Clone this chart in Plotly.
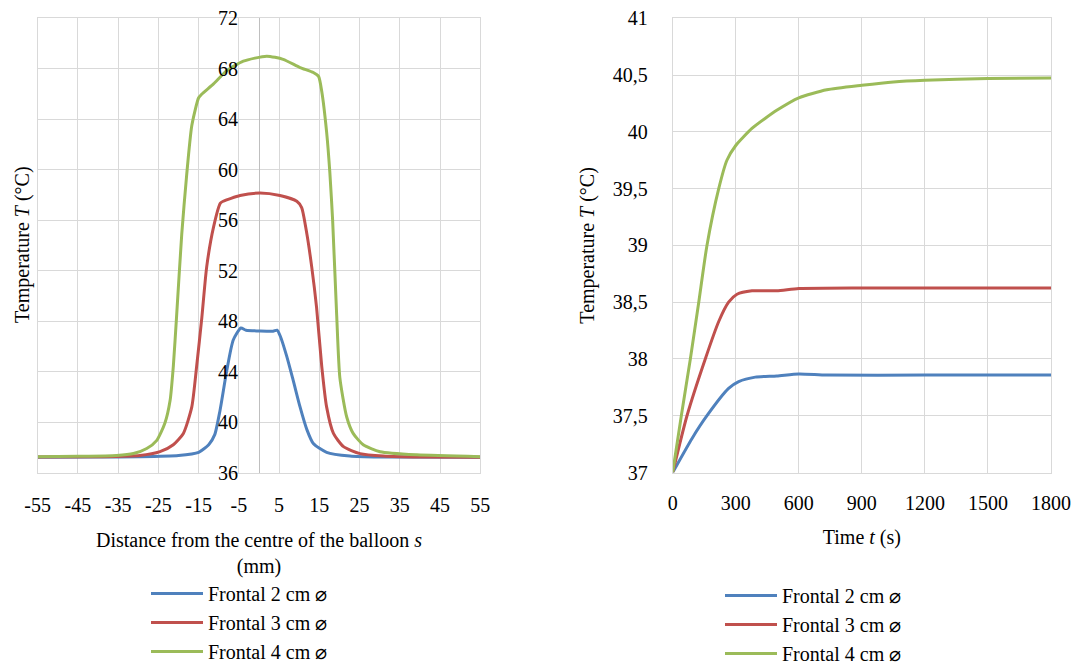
import plotly.graph_objects as go

# ---------------- data ----------------
series_names = ["Frontal 2 cm ⌀", "Frontal 3 cm ⌀", "Frontal 4 cm ⌀"]
colors = ["#4F81BD", "#C0504D", "#9BBB59"]

# Left chart: temperature vs distance from balloon centre (mm)
s_2cm = [-55, -40, -30, -20, -15, -12.5, -11, -9.7, -8, -6.4, -4.5, -3.2, 0, 3.5, 4.5,
         5.3, 6.9, 8.5, 10.2, 11.9, 13.5, 16.8, 22.6, 30, 55]
T_2cm = [37.2, 37.22, 37.25, 37.35, 37.6, 38.2, 39.0, 40.9, 44.1, 46.5, 47.45, 47.27, 47.22,
         47.2, 47.28, 46.8, 45.2, 43.3, 41.2, 39.4, 38.3, 37.6, 37.3, 37.22, 37.2]

s_3cm = [-55, -40, -29.6, -24.6, -21.3, -18.8, -16.7, -15.5, -14.2, -13, -11.3, -9.6, -8.9,
         -4.7, 0.25, 5.2, 9.4, 10.6, 11.9, 13.1, 14.3, 15.6, 16.8, 18.5, 21, 25.1, 30.9, 40, 55]
T_3cm = [37.22, 37.25, 37.35, 37.65, 38.2, 39.1, 41.2, 44.4, 48.3, 52.3, 55.45, 57.35, 57.5,
         57.95, 58.15, 57.95, 57.5, 57.0, 54.9, 52.3, 49.1, 44.4, 41.2, 39.1, 38.05, 37.5,
         37.3, 37.22, 37.2]

s_4cm = [-55, -45, -35.4, -31.2, -27.9, -25.4, -23.4, -22.1, -21.3, -20.5, -19.2, -18, -16.7,
         -15.0, -14.2, -11.3, -8, -3.9, 1.9, 6, 10.2, 13.5, 14.8, 15.6, 16.8, 17.6, 18.3, 19.3,
         20.1, 21.8, 23.4, 25.9, 30.1, 39.2, 55]
T_4cm = [37.25, 37.28, 37.35, 37.5, 37.9, 38.55, 39.9, 41.7, 44.4, 48.3, 54.9, 59.5, 63.5,
         65.7, 66.0, 66.8, 67.85, 68.6, 69.0, 68.75, 68.1, 67.7, 67.4, 66.2, 63.0, 59.8, 56.0,
         48.5, 43.5, 40.4, 39.1, 38.2, 37.65, 37.4, 37.25]

# Right chart: temperature vs time (s)
t_4cm = [0, 41, 84, 124, 163, 219, 258, 300, 377, 441, 495, 600, 733, 900, 1050, 1200, 1500, 1800]
Tt_4cm = [37.0, 37.5, 38.0, 38.5, 39.0, 39.5, 39.75, 39.88, 40.03, 40.12, 40.19, 40.3, 40.37,
          40.41, 40.44, 40.455, 40.47, 40.475]
t_3cm = [0, 68, 155, 219, 266, 306, 377, 495, 600, 900, 1200, 1800]
Tt_3cm = [37.0, 37.5, 38.0, 38.33, 38.5, 38.57, 38.6, 38.6, 38.62, 38.625, 38.625, 38.625]
t_2cm = [0, 92, 163, 266, 314, 393, 495, 600, 733, 1200, 1800]
Tt_2cm = [37.0, 37.3, 37.5, 37.74, 37.8, 37.84, 37.85, 37.868, 37.858, 37.858, 37.858]

x_left_ticks = [-55, -45, -35, -25, -15, -5, 5, 15, 25, 35, 45, 55]
x_left_labels = ["-55", "-45", "-35", "-25", "-15", "-5", "5", "15", "25", "35", "45", "55"]
y_left_ticks = [36, 40, 44, 48, 52, 56, 60, 64, 68, 72]
x_right_ticks = [0, 300, 600, 900, 1200, 1500, 1800]
y_right_ticks = [37, 37.5, 38, 38.5, 39, 39.5, 40, 40.5, 41]
y_right_labels = ["37", "37,5", "38", "38,5", "39", "39,5", "40", "40,5", "41"]

# ---------------- layout geometry ----------------
W, H = 1083, 665
FONT = "Liberation Serif, Times New Roman, serif"
GRID = "#D9D9D9"

def px_x(p):
    return p / W

def px_y(p):
    return 1 - p / H

left_dom = [px_x(37.7), px_x(480.3)]
right_dom = [px_x(672.7), px_x(1051)]
y_dom = [px_y(472.5), px_y(18.3)]
# fraction of the page where s = 0 lies (the left chart's value axis crosses there)
y_axis_pos = left_dom[0] + (0 - (-55)) / 110 * (left_dom[1] - left_dom[0])

fig = go.Figure()

left_data = [(s_2cm, T_2cm), (s_3cm, T_3cm), (s_4cm, T_4cm)]
right_data = [(t_2cm, Tt_2cm), (t_3cm, Tt_3cm), (t_4cm, Tt_4cm)]

for i, (xs, ys) in enumerate(left_data):
    fig.add_trace(go.Scatter(
        x=xs, y=ys, mode="lines", name=series_names[i],
        line=dict(color=colors[i], width=3, shape="spline", smoothing=0.6),
        xaxis="x", yaxis="y", legend="legend", legendgroup="L%d" % i,
    ))
for i, (xs, ys) in enumerate(right_data):
    fig.add_trace(go.Scatter(
        x=xs, y=ys, mode="lines", name=series_names[i],
        line=dict(color=colors[i], width=3, shape="spline", smoothing=0.6),
        xaxis="x2", yaxis="y2", legend="legend2", legendgroup="R%d" % i,
    ))

# empty helper trace so that the label-carrying axis pair (x3, y3) gets drawn
fig.add_trace(go.Scatter(x=[None], y=[None], mode="lines", xaxis="x3", yaxis="y3",
                         showlegend=False, hoverinfo="skip"))

tickfont = dict(family=FONT, size=20, color="black")

fig.update_layout(
    width=W, height=H,
    margin=dict(l=0, r=0, t=0, b=0, autoexpand=False),
    paper_bgcolor="white", plot_bgcolor="rgba(0,0,0,0)",
    font=dict(family=FONT, size=20, color="black"),
    xaxis=dict(
        domain=left_dom, range=[-55, 55], anchor="y", automargin=False,
        tickmode="array", tickvals=x_left_ticks, ticktext=x_left_labels,
        showgrid=True, gridcolor=GRID, gridwidth=1,
        zeroline=True, zerolinecolor="#BFBFBF", zerolinewidth=1,
        showline=True, linecolor=GRID, mirror=True,
        ticks="", ticklabelstandoff=14, tickfont=tickfont,
        title=dict(text="Distance from the centre of the balloon <i>s</i><br>(mm)",
                   font=dict(family=FONT, size=20, color="black"), standoff=18),
    ),
    yaxis=dict(
        domain=y_dom, range=[36, 72], anchor="x", automargin=False,
        tickmode="array", tickvals=y_left_ticks,
        showgrid=True, gridcolor=GRID, gridwidth=1,
        zeroline=False, showline=True, linecolor=GRID, mirror=True,
        showticklabels=False, ticks="",
    ),
    # hidden helper axis whose left edge sits at s = 0, carrying the left chart's T labels
    xaxis3=dict(
        domain=[y_axis_pos, left_dom[1]], anchor="y3", visible=False,
        range=[0, 55], automargin=False,
    ),
    yaxis3=dict(
        domain=y_dom, range=[36, 72], anchor="x3", automargin=False,
        tickmode="array", tickvals=y_left_ticks,
        showgrid=False, zeroline=False, showline=False,
        ticks="", ticklabelstandoff=20, tickfont=tickfont,
    ),
    xaxis2=dict(
        domain=right_dom, range=[0, 1800], anchor="y2", automargin=False,
        tickmode="array", tickvals=x_right_ticks,
        showgrid=True, gridcolor=GRID, gridwidth=1,
        zeroline=False, showline=True, linecolor=GRID, mirror=True,
        ticks="", ticklabelstandoff=12, tickfont=tickfont,
        title=dict(text="Time <i>t</i> (s)",
                   font=dict(family=FONT, size=20, color="black"), standoff=17),
    ),
    yaxis2=dict(
        domain=y_dom, range=[37, 41], anchor="x2", automargin=False,
        tickmode="array", tickvals=y_right_ticks, ticktext=y_right_labels,
        showgrid=True, gridcolor=GRID, gridwidth=1,
        zeroline=False, showline=True, linecolor=GRID, mirror=True,
        ticks="", ticklabelstandoff=20, tickfont=tickfont,
        title=dict(text="Temperature <i>T</i> (°C)",
                   font=dict(family=FONT, size=20, color="black"), standoff=12),
    ),
    legend=dict(
        x=px_x(146), y=px_y(574), xanchor="left", yanchor="top",
        font=dict(family=FONT, size=20, color="black"),
        bgcolor="rgba(0,0,0,0)", tracegroupgap=0, itemwidth=52,
    ),
    legend2=dict(
        x=px_x(720), y=px_y(576), xanchor="left", yanchor="top",
        font=dict(family=FONT, size=20, color="black"),
        bgcolor="rgba(0,0,0,0)", tracegroupgap=0, itemwidth=52,
    ),
    annotations=[
        dict(text="Temperature <i>T</i> (°C)", textangle=-90,
             x=px_x(22), y=px_y(245), xref="paper", yref="paper",
             xanchor="center", yanchor="middle", showarrow=False,
             font=dict(family=FONT, size=20, color="black")),
    ],
    showlegend=True,
)

fig.write_html("out.html", config={"displayModeBar": False})
